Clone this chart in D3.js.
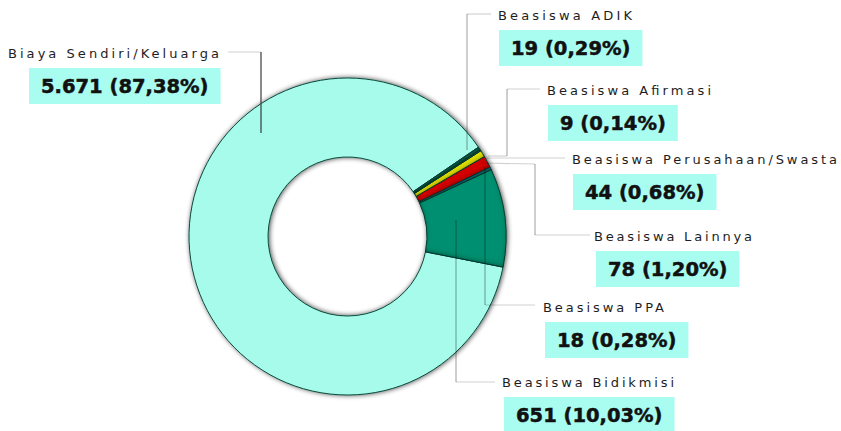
<!DOCTYPE html>
<html>
<head>
<meta charset="utf-8">
<script src="https://cdn.jsdelivr.net/npm/d3@7"></script>
<style>
  body { margin: 0; background: #fff; }
  svg { display: block; }
</style>
</head>
<body>
<div id="chart"></div>
<script>
var width = 841, height = 431;

// data, in the order the chart draws them (counter-clockwise)
var categories = ["Biaya Sendiri/Keluarga", "Beasiswa Bidikmisi", "Beasiswa PPA", "Beasiswa Lainnya",
                  "Beasiswa Perusahaan/Swasta", "Beasiswa Afirmasi", "Beasiswa ADIK"];
var values = [5671, 651, 18, 78, 44, 9, 19];
var colors = ["#a6fbea", "#008f70", "#1f6f7e", "#d40000", "#e3e300", "#2f7a5f", "#176350"];

var cx = 347.5, cy = 236.5, outerR = 158.5, innerR = 79.5;
var startDeg = 55.7;

// label layout: text start x, text centre y, box x, label width
var labelPos = [
    { x: 8,   y: 53,  bx: 29,  tw: 211 },
    { x: 502, y: 382, bx: 504, tw: 172 },
    { x: 543, y: 307, bx: 545, tw: 121 },
    { x: 594, y: 236, bx: 596, tw: 158 },
    { x: 572, y: 159, bx: 573, tw: 265 },
    { x: 547, y: 90,  bx: 548, tw: 164 },
    { x: 498, y: 15,  bx: 499, tw: 134 }
];
// leader polylines (label end -> elbow -> slice)
var leaders = [
    [[228, 52], [261, 52], [261, 133]],
    [[495, 382], [456, 382], [456, 220]],
    [[535, 305], [485, 305], [485, 167]],
    [[590, 235], [535, 235], [535, 164], [482, 163]],
    [[565, 158], [486, 158]],
    [[540, 89], [507, 89], [507, 156], [488, 156]],
    [[491, 14], [467, 14], [467, 150]]
];

var total = d3.sum(values);
var loc = d3.formatLocale({ decimal: ",", thousands: ".", grouping: [3], currency: ["", ""] });
var fmtNum = loc.format(",d");
var fmtPct = loc.format(".2f");

var svg = d3.select("#chart").append("svg")
    .attr("width", width)
    .attr("height", height);

var defs = svg.append("defs");

// soft shadow around the ring
var drop = defs.append("filter").attr("id", "drop")
    .attr("x", "-20%").attr("y", "-20%").attr("width", "140%").attr("height", "140%");
drop.append("feGaussianBlur").attr("in", "SourceAlpha").attr("stdDeviation", 2.5).attr("result", "b");
drop.append("feOffset").attr("in", "b").attr("dx", 1).attr("dy", 0).attr("result", "o");
drop.append("feComponentTransfer").attr("in", "o").attr("result", "s")
    .append("feFuncA").attr("type", "linear").attr("slope", 0.7);
var dm = drop.append("feMerge");
dm.append("feMergeNode").attr("in", "s");
dm.append("feMergeNode").attr("in", "SourceGraphic");

// inner shade on the lower edge of the smaller slices
var inset = defs.append("filter").attr("id", "inset");
inset.append("feComponentTransfer").attr("in", "SourceAlpha").attr("result", "inv")
    .append("feFuncA").attr("type", "table").attr("tableValues", "1 0");
inset.append("feGaussianBlur").attr("in", "inv").attr("stdDeviation", 2).attr("result", "ib");
inset.append("feOffset").attr("in", "ib").attr("dx", 0).attr("dy", -2.5).attr("result", "io");
inset.append("feFlood").attr("flood-color", "#000").attr("flood-opacity", 0.6).attr("result", "fl");
inset.append("feComposite").attr("in", "fl").attr("in2", "io").attr("operator", "in").attr("result", "sh");
inset.append("feComposite").attr("in", "sh").attr("in2", "SourceAlpha").attr("operator", "in").attr("result", "shc");
var im = inset.append("feMerge");
im.append("feMergeNode").attr("in", "SourceGraphic");
im.append("feMergeNode").attr("in", "shc");

var a0 = startDeg * Math.PI / 180;
var pie = d3.pie().sort(null).value(function(d) { return d; })
    .startAngle(a0).endAngle(a0 - 2 * Math.PI);
var arc = d3.arc().innerRadius(innerR).outerRadius(outerR);
var arcs = pie(values);

var ring = svg.append("g")
    .attr("transform", "translate(" + cx + "," + cy + ")")
    .attr("filter", "url(#drop)");

ring.selectAll("path.slice")
    .data(arcs)
    .enter()
    .append("path")
    .attr("class", "slice")
    .attr("d", arc)
    .attr("fill", function(d, i) { return colors[i]; })
    .attr("filter", function(d, i) { return i === 0 ? null : "url(#inset)"; })
    .attr("stroke", "#0b4a3c")
    .attr("stroke-width", 1);

// leader lines
var lineGen = d3.line();
leaders.forEach(function(pts, i) {
    for (var k = 0; k < pts.length - 1; k++) {
        var p = pts[k], q = pts[k + 1];
        var vertical = Math.abs(p[0] - q[0]) < 0.5;
        svg.append("path")
            .attr("d", lineGen([p, q]))
            .attr("fill", "none")
            .attr("stroke", i === 0 && vertical ? "#3a3a3a" : "#000")
            .attr("stroke-opacity", i === 0 && vertical ? 1 : (vertical ? 0.32 : 0.18))
            .attr("stroke-width", 1.2);
    }
});

// labels
var labels = svg.append("g");
categories.forEach(function(name, i) {
    var lp = labelPos[i];
    labels.append("text")
        .attr("x", lp.x)
        .attr("y", lp.y + 4.5)
        .attr("textLength", lp.tw)
        .attr("lengthAdjust", "spacing")
        .style("font-family", "'DejaVu Sans', Verdana, sans-serif")
        .style("font-size", "13px")
        .style("fill", "#1e1e1e")
        .text(name);

    var txt = fmtNum(values[i]) + " (" + fmtPct(values[i] / total * 100) + "%)";
    var box = labels.append("rect")
        .attr("x", lp.bx)
        .attr("y", lp.y + 15)
        .attr("height", 36)
        .attr("fill", "#a9fdf0");
    var t = labels.append("text")
        .attr("y", lp.y + 15 + 18 + 7)
        .attr("text-anchor", "middle")
        .style("font-family", "'DejaVu Sans', Verdana, sans-serif")
        .style("font-weight", "bold")
        .style("font-size", "19.5px")
        .style("fill", "#111")
        .style("stroke", "#111")
        .style("stroke-width", 0.5)
        .text(txt);
    var w = t.node().getComputedTextLength() + 24;
    box.attr("width", w);
    t.attr("x", lp.bx + w / 2);
});
</script>
</body>
</html>
